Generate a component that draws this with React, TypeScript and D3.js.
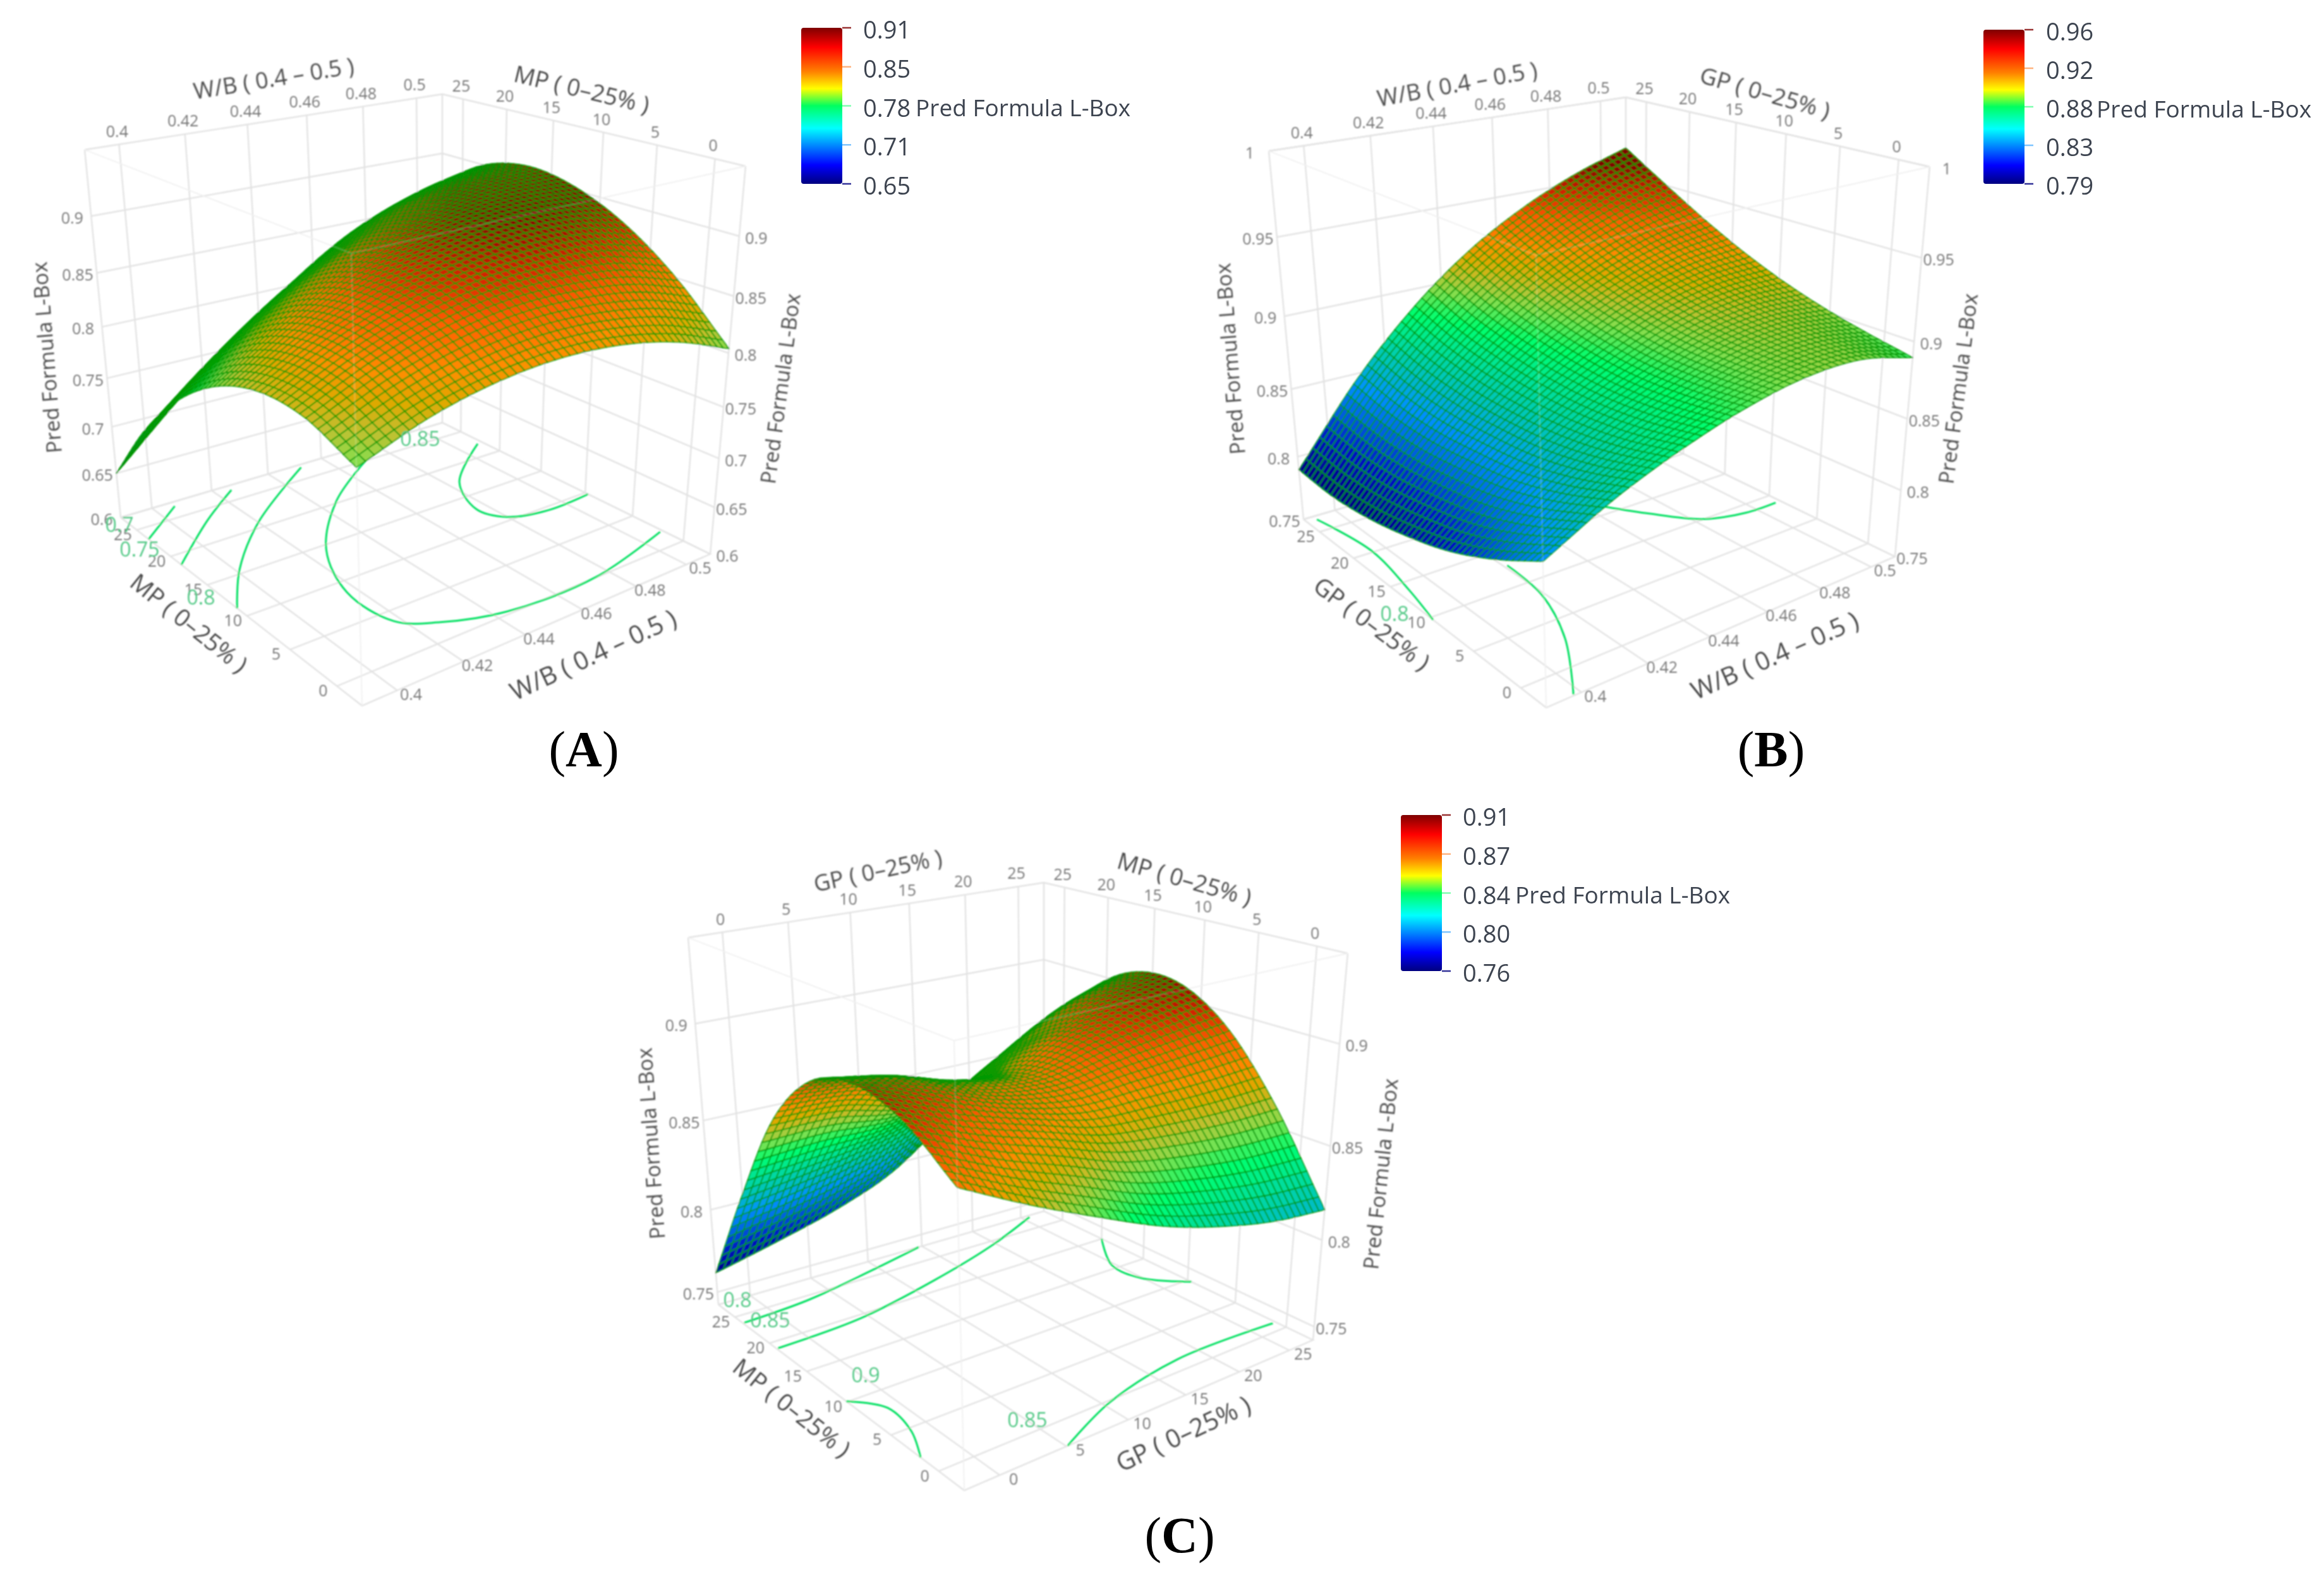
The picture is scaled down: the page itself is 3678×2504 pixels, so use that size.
import React, { useMemo } from "react";
import * as d3 from "d3";

// ---------- data ----------
// Surface heights were read off the picture at 7 x 7 knots. The knots are the spaced stops below.
// The drawn 50 x 50 mesh is a smooth spline curve through these read values (see spline()),
// exactly as a curve generator would draw through a line's points.
const wbStops = [0.39, 0.41, 0.43, 0.45, 0.47, 0.49, 0.51];
const pctStops = [-2.5, 2.5, 7.5, 12.5, 17.5, 22.5, 27.5];

const surfaceA = [
  [0.803, 0.824, 0.836, 0.84, 0.836, 0.824, 0.804],
  [0.82, 0.845, 0.862, 0.871, 0.871, 0.865, 0.85],
  [0.82, 0.85, 0.872, 0.886, 0.893, 0.892, 0.883],
  [0.803, 0.839, 0.867, 0.887, 0.9, 0.905, 0.903],
  [0.769, 0.811, 0.846, 0.873, 0.892, 0.905, 0.91],
  [0.718, 0.767, 0.809, 0.843, 0.871, 0.889, 0.9],
  [0.65, 0.7065, 0.756, 0.7985, 0.834, 0.858, 0.872],
];
const surfaceB = [
  [0.842, 0.864, 0.88, 0.892, 0.899, 0.899, 0.89],
  [0.823, 0.851, 0.872, 0.888, 0.899, 0.902, 0.897],
  [0.808, 0.842, 0.868, 0.887, 0.901, 0.907, 0.906],
  [0.798, 0.838, 0.868, 0.8905, 0.9065, 0.9155, 0.918],
  [0.791, 0.836, 0.871, 0.897, 0.915, 0.927, 0.933],
  [0.788, 0.8385, 0.877, 0.906, 0.927, 0.941, 0.95],
  [0.79, 0.845, 0.887, 0.918, 0.94, 0.956, 0.9675],
];
const surfaceC = [
  [0.883, 0.866, 0.851, 0.837, 0.827, 0.82, 0.8166],
  [0.9, 0.887, 0.877, 0.867, 0.863, 0.861, 0.861],
  [0.906, 0.8975, 0.887, 0.883, 0.887, 0.89, 0.893],
  [0.898, 0.893, 0.884, 0.881, 0.893, 0.902, 0.908],
  [0.87, 0.869, 0.862, 0.865, 0.88, 0.897, 0.906],
  [0.82, 0.8245, 0.83, 0.839, 0.857, 0.875, 0.888],
  [0.762, 0.771, 0.781, 0.795, 0.818, 0.842, 0.858],
];

// floor contours, [x-variable, y-variable] in axis units
const contoursA: [number, number][][] = [
  [[0.406, 26.8], [0.39, 23.2]],
  [[0.425, 26.7], [0.409, 23.3], [0.39, 18.5]],
  [[0.451, 27], [0.42, 20.8], [0.401, 15.5], [0.39, 11.2]],
  [[0.471, 25.1], [0.446, 20.3], [0.426, 14.3], [0.417, 8.6], [0.418, 3.8], [0.427, 1.9], [0.444, 0.3], [0.475, 0.05], [0.509, 2]],
  [[0.508, 22.2], [0.484, 17.3], [0.476, 12.9], [0.48, 10.5], [0.493, 9.5], [0.51, 9.7]],
];
const contoursB: [number, number][][] = [
  [[0.393, 26.9], [0.396, 20.2], [0.393, 13.9], [0.39, 9.65]],
  [[0.421, 12.8], [0.419, 8], [0.411, 2.8], [0.398, -2.4]],
  [[0.464, 16.4], [0.472, 13.3], [0.483, 10], [0.496, 8.9], [0.508, 8.8]],
];
const contoursC: [number, number][][] = [
  [[-2.4, 23.8], [2.9, 24.3], [9.2, 25.9], [14.7, 27.5]],
  [[-2.4, 19], [4.4, 19.5], [12.1, 21.6], [19.6, 24.3], [25.7, 27.2]],
  [[27.5, 20], [24.7, 15.6], [24.9, 12.4], [27.5, 9.6]],
  [[-2.5, 10.1], [-0.9, 7.8], [-1.3, 4.6], [-2.5, 1.85]],
  [[5.1, -2.5], [10.5, -0.2], [18, 1.3], [27.2, 1]],
];

const wbTicks = [0.4, 0.42, 0.44, 0.46, 0.48, 0.5];
const pctTicks = [0, 5, 10, 15, 20, 25];
const zTicksA = [0.6, 0.65, 0.7, 0.75, 0.8, 0.85, 0.9];
const zTicksB = [0.75, 0.8, 0.85, 0.9, 0.95, 1];
const zTicksC = [0.75, 0.8, 0.85, 0.9];

const barLabelsA = ["0.91", "0.85", "0.78", "0.71", "0.65"];
const barLabelsB = ["0.96", "0.92", "0.88", "0.83", "0.79"];
const barLabelsC = ["0.91", "0.87", "0.84", "0.80", "0.76"];

const colorStops = [0, 0.12, 0.356, 0.5, 0.61, 0.72, 0.875, 1];
const colorValues = ["#00007f", "#0000ff", "#00ffff", "#00ff60", "#ffff00", "#ff8000", "#ff0000", "#7f0000"];
// tones the mesh cells show in the picture
const shadeStops = [0, 0.12, 0.22, 0.31, 0.4, 0.5, 0.56, 0.63, 0.68, 0.73, 0.78, 0.86, 0.93, 1];
const shadeValues = ["#00007f", "#0010c0", "#0060e0", "#0090ff", "#00c0c0", "#00e890", "#00ff70", "#80e050", "#c0c030", "#e0a800", "#ff8c00", "#ff5a00", "#d02000", "#7f0000"];

const zTitle = "Pred Formula L-Box";
const wbTitle = "W/B ( 0.4 – 0.5 )";
const mpTitle = "MP ( 0–25% )";
const gpTitle = "GP ( 0–25% )";

// ---------- layout ----------
type P = [number, number];
type Lab = { t: string; x: number; y: number; r: number; s?: number };
type Panel = {
  key: string; letter: string; lx: number; ly: number;
  floor: P[]; top: P[]; // order: front, right, back, left
  xStops: number[]; yStops: number[]; xTicks: number[]; yTicks: number[];
  zDomain: [number, number]; zBend: number; zTicks: number[]; surface: number[][];
  colorDomain: [number, number]; bar: { x: number; y0: number; y1: number; labels: string[]; tx: number; px: number };
  contours: [number, number][][]; contourLabels: Lab[]; titles: Lab[];
};

const panels: Panel[] = [
  {
    key: "A", letter: "A", lx: 924, ly: 1213,
    floor: [[573, 1117], [1124, 877], [700, 669], [191, 819]],
    top: [[556, 401], [1180, 263], [700, 149], [134, 237]],
    xStops: wbStops, yStops: pctStops, xTicks: wbTicks, yTicks: pctTicks,
    zDomain: [0.6, 0.955], zBend: 1.2, zTicks: zTicksA, surface: surfaceA, colorDomain: [0.64, 0.9],
    bar: { x: 1268, y0: 44, y1: 291, labels: barLabelsA, tx: 1366, px: 1449 },
    contours: contoursA,
    contourLabels: [
      { t: "0.7", x: 189, y: 829, r: 0 }, { t: "0.75", x: 221, y: 868, r: 0 },
      { t: "0.8", x: 318, y: 944, r: 0 }, { t: "0.85", x: 665, y: 693, r: 0 },
    ],
    titles: [
      { t: wbTitle, x: 433, y: 123, r: -9.2, s: 36 }, { t: mpTitle, x: 921, y: 140, r: 13.4, s: 37 },
      { t: zTitle, x: 73, y: 566, r: -94.5 }, { t: zTitle, x: 1234, y: 615, r: -82.4 },
      { t: mpTitle, x: 300, y: 985, r: 38.7, s: 38 }, { t: wbTitle, x: 938, y: 1035, r: -25, s: 40 },
    ],
  },
  {
    key: "B", letter: "B", lx: 2803, ly: 1213,
    floor: [[2447, 1120], [2999, 881], [2573, 674], [2063, 822]],
    top: [[2431, 404], [3054, 264], [2573, 154], [2008, 239]],
    xStops: wbStops, yStops: pctStops, xTicks: wbTicks, yTicks: pctTicks,
    zDomain: [0.75, 1], zBend: 1.22, zTicks: zTicksB, surface: surfaceB, colorDomain: [0.79, 0.96],
    bar: { x: 3139, y0: 47, y1: 291, labels: barLabelsB, tx: 3238, px: 3318 },
    contours: contoursB,
    contourLabels: [{ t: "0.8", x: 2207, y: 970, r: 0 }],
    titles: [
      { t: wbTitle, x: 2306, y: 132, r: -10.4, s: 36 }, { t: gpTitle, x: 2794, y: 145, r: 16, s: 37 },
      { t: zTitle, x: 1946, y: 568, r: -94.5 }, { t: zTitle, x: 3098, y: 615, r: -82.6 },
      { t: gpTitle, x: 2172, y: 986, r: 36.8, s: 38 }, { t: wbTitle, x: 2808, y: 1036, r: -24, s: 40 },
    ],
  },
  {
    key: "C", letter: "C", lx: 1867, ly: 2457,
    floor: [[1526, 2359], [2078, 2121], [1652, 1917], [1137, 2065]],
    top: [[1510, 1647], [2133, 1509], [1652, 1397], [1089, 1484]],
    xStops: pctStops, yStops: pctStops, xTicks: pctTicks, yTicks: pctTicks,
    zDomain: [0.742, 0.941], zBend: 1.18, zTicks: zTicksC, surface: surfaceC, colorDomain: [0.76, 0.91],
    bar: { x: 2217, y0: 1290, y1: 1537, labels: barLabelsC, tx: 2315, px: 2398 },
    contours: contoursC,
    contourLabels: [
      { t: "0.8", x: 1167, y: 2056, r: 0 }, { t: "0.85", x: 1219, y: 2088, r: 0 },
      { t: "0.9", x: 1370, y: 2175, r: 0 }, { t: "0.85", x: 1626, y: 2246, r: 0 },
    ],
    titles: [
      { t: gpTitle, x: 1389, y: 1377, r: -12, s: 36 }, { t: mpTitle, x: 1875, y: 1390, r: 16, s: 37 },
      { t: zTitle, x: 1029, y: 1810, r: -94 }, { t: zTitle, x: 2184, y: 1858, r: -84 },
      { t: mpTitle, x: 1254, y: 2227, r: 38.6, s: 38 }, { t: gpTitle, x: 1872, y: 2268, r: -25, s: 40 },
    ],
  },
];

const MESH = 50;
const FONT = "'Open Sans', 'Noto Sans', sans-serif";
const GRID = "#e3e3e3";

// ---------- helpers ----------
function homography(q: P[]) {
  const [p0, p1, p2, p3] = q;
  const cross = (a: P, b: P) => a[0] * b[1] - a[1] * b[0];
  const d1: P = [p1[0] - p2[0], p1[1] - p2[1]];
  const d2: P = [p3[0] - p2[0], p3[1] - p2[1]];
  const s: P = [p0[0] - p1[0] + p2[0] - p3[0], p0[1] - p1[1] + p2[1] - p3[1]];
  const den = cross(d1, d2);
  const g = cross(s, d2) / den;
  const h = cross(d1, s) / den;
  return (u: number, v: number): P => {
    const w = 1 + g * u + h * v;
    return [
      (p0[0] + u * (p1[0] * (1 + g) - p0[0]) + v * (p3[0] * (1 + h) - p0[0])) / w,
      (p0[1] + u * (p1[1] * (1 + g) - p0[1]) + v * (p3[1] * (1 + h) - p0[1])) / w,
    ];
  };
}

// smooth curve through uniformly spaced values (position t in 0..1)
function spline(vals: number[], t: number) {
  const n = vals.length - 1;
  const f = Math.min(Math.max(t, 0), 1) * n;
  const i = Math.min(Math.floor(f), n - 1);
  const r = f - i;
  const p1 = vals[i], p2 = vals[i + 1];
  const p0 = i > 0 ? vals[i - 1] : 2 * p1 - p2;
  const p3 = i < n - 1 ? vals[i + 2] : 2 * p2 - p1;
  return 0.5 * (2 * p1 + (p2 - p0) * r + (2 * p0 - 5 * p1 + 4 * p2 - p3) * r * r + (3 * p1 - p0 - 3 * p2 + p3) * r * r * r);
}

const surfaceAt = (m: number[][], u: number, v: number) => spline(m.map((row) => spline(row, u)), v);

const colorAt = d3.scaleLinear<string>().domain(colorStops).range(colorValues).interpolate(d3.interpolateRgb).clamp(true);
const shadeAt = d3.scaleLinear<string>().domain(shadeStops).range(shadeValues).interpolate(d3.interpolateRgb).clamp(true);

const lineGen = d3.line<P>();
const smoothGen = d3.line<P>().curve(d3.curveCatmullRom.alpha(0.5));

function Surface3D({ p }: { p: Panel }) {
  const view = useMemo(() => {
    const H0 = homography(p.floor);
    const H1 = homography(p.top);
    const sx = d3.scaleLinear().domain([p.xStops[0], p.xStops[6]]).range([0, 1]);
    const sy = d3.scaleLinear().domain([p.yStops[0], p.yStops[6]]).range([0, 1]);
    const sz = d3.scaleLinear().domain(p.zDomain).range([0, 1]);
    const sc = d3.scaleLinear().domain(p.colorDomain).range([0, 1]);
    const bend = (t: number) => t / (t + (1 - t) * p.zBend);
    const pr = (u: number, v: number, z: number): P => {
      const a = H0(u, v), b = H1(u, v), t = bend(sz(z));
      return [a[0] + (b[0] - a[0]) * t, a[1] + (b[1] - a[1]) * t];
    };
    const [z0, z1] = p.zDomain;

    const grid: string[] = [];
    const add = (pts: P[]) => grid.push(lineGen(pts) as string);
    // box
    add([pr(0, 1, z1), pr(1, 1, z1), pr(1, 0, z1)]);
    add([pr(0, 1, z0), pr(1, 1, z0), pr(1, 0, z0), pr(0, 0, z0), pr(0, 1, z0)]);
    add([pr(0, 1, z0), pr(0, 1, z1)]);
    add([pr(1, 1, z0), pr(1, 1, z1)]);
    add([pr(1, 0, z0), pr(1, 0, z1)]);
    p.xTicks.forEach((x) => {
      const u = sx(x);
      add([pr(u, 1, z0), pr(u, 1, z1)]);
      add([pr(u, 0, z0), pr(u, 1, z0)]);
    });
    p.yTicks.forEach((y) => {
      const v = sy(y);
      add([pr(1, v, z0), pr(1, v, z1)]);
      add([pr(0, v, z0), pr(1, v, z0)]);
    });
    p.zTicks.forEach((z) => add([pr(0, 1, z), pr(1, 1, z), pr(1, 0, z)]));
    const faint = [
      lineGen([pr(0, 1, z1), pr(0, 0, z1), pr(1, 0, z1)]) as string,
      lineGen([pr(0, 0, z0), pr(0, 0, z1)]) as string,
    ];

    const field: number[][] = d3.range(MESH + 1).map((j) =>
      d3.range(MESH + 1).map((i) => surfaceAt(p.surface, i / MESH, j / MESH)));
    const cells: { d: string; fill: string }[] = [];
    // painter's order: from the far corner (u=1, v=1) to the near one (u=0, v=0)
    for (let j = MESH - 1; j >= 0; j--) {
      for (let i = MESH - 1; i >= 0; i--) {
        const pts: P[] = [
          pr(i / MESH, j / MESH, field[j][i]),
          pr((i + 1) / MESH, j / MESH, field[j][i + 1]),
          pr((i + 1) / MESH, (j + 1) / MESH, field[j + 1][i + 1]),
          pr(i / MESH, (j + 1) / MESH, field[j + 1][i]),
        ];
        const z = (field[j][i] + field[j][i + 1] + field[j + 1][i] + field[j + 1][i + 1]) / 4;
        cells.push({ d: (lineGen(pts) as string) + "Z", fill: shadeAt(sc(z)) });
      }
    }
    const contours = p.contours.map((c) => smoothGen(c.map(([x, y]) => pr(sx(x), sy(y), z0))) as string);

    const labels: Lab[] = [];
    p.xTicks.forEach((x) => {
      const u = sx(x);
      const a = pr(u, 1, z1), b = pr(u, 0, z0);
      labels.push({ t: String(x), x: a[0] - 3, y: a[1] - 22, r: 0 });
      labels.push({ t: String(x), x: b[0] + 22, y: b[1] + 5, r: 0 });
    });
    p.yTicks.forEach((y) => {
      const v = sy(y);
      const a = pr(1, v, z1), b = pr(0, v, z0);
      labels.push({ t: String(y), x: a[0] - 3, y: a[1] - 22, r: 0 });
      labels.push({ t: String(y), x: b[0] - 22, y: b[1] + 6, r: 0 });
    });
    p.zTicks.forEach((z) => {
      const a = pr(0, 1, z), b = pr(1, 0, z);
      labels.push({ t: String(z), x: a[0] - 30, y: a[1] + 2, r: 0 });
      labels.push({ t: String(z), x: b[0] + 27, y: b[1] + 2, r: 0 });
    });
    return { grid, faint, cells, contours, labels };
  }, [p]);

  const b = p.bar;
  const barTick = d3.scaleLinear().domain([0, b.labels.length - 1]).range([b.y0, b.y1]);
  return (
    <g>
      <g filter="url(#soft)">
        <g fill="none" stroke={GRID} strokeWidth={2.4}>
          {view.grid.map((d, i) => <path key={i} d={d} />)}
          <path d={view.faint[0]} strokeWidth={1.8} stroke="#ededed" />
          <path d={view.faint[1]} strokeWidth={1.8} stroke="#ededed" />
        </g>
        <g fill="none" stroke="#00e060" strokeWidth={3}>
          {view.contours.map((d, i) => <path key={i} d={d} />)}
        </g>
        <g strokeLinejoin="round">
          {view.cells.map((c, i) => <path key={i} d={c.d} fill={c.fill} stroke="#009a00" strokeOpacity={0.85} strokeWidth={1.9} />)}
        </g>
        <g fill="none" stroke="#ffffff" strokeOpacity={0.2} strokeWidth={2}>
          <path d={view.faint[0]} />
          <path d={view.faint[1]} />
        </g>
        <g fontFamily={FONT} fontSize={25} fill="#777" textAnchor="middle" dominantBaseline="central">
          {view.labels.map((l, i) => <text key={i} x={l.x} y={l.y}>{l.t}</text>)}
        </g>
        <g fontFamily={FONT} fontSize={32} fill="#52c986" textAnchor="middle" dominantBaseline="central">
          {p.contourLabels.map((l, i) => <text key={i} x={l.x} y={l.y}>{l.t}</text>)}
        </g>
        <g fontFamily={FONT} fill="#4a4a4a" textAnchor="middle" dominantBaseline="central">
          {p.titles.map((l, i) => (
            <text key={i} fontSize={l.s ?? 33} transform={`translate(${l.x},${l.y}) rotate(${l.r})`}>{l.t}</text>
          ))}
        </g>
      </g>
      <rect x={b.x} y={b.y0} width={65} height={b.y1 - b.y0} rx={4} fill="url(#bar)" />
      {b.labels.map((t, i) => {
        const y = barTick(i);
        const f = 1 - (y - b.y0) / (b.y1 - b.y0);
        return (
          <g key={t}>
            <line x1={b.x + 65} x2={b.x + 79} y1={y} y2={y} stroke={colorAt(f)} strokeOpacity={i === 0 || i === 4 ? 0.8 : 0.5} strokeWidth={2.5} />
            <text x={b.tx} y={y + 2} fontFamily={FONT} fontSize={38} fill="#3d4450" dominantBaseline="central">{t}</text>
          </g>
        );
      })}
      <text x={b.px} y={barTick(2) + 2} fontFamily={FONT} fontSize={37} fill="#3d4450" dominantBaseline="central">{zTitle}</text>
      <text x={p.lx} y={p.ly} textAnchor="middle" fontFamily="'Liberation Serif', serif" fontSize={80} fill="#000">
        (<tspan fontWeight="bold">{p.letter}</tspan>)
      </text>
    </g>
  );
}

export default function App() {
  return (
    <svg width={3678} height={2504} viewBox="0 0 3678 2504" style={{ position: "absolute", left: 0, top: 0, display: "block", background: "#fff" }}>
      <defs>
        <linearGradient id="bar" x1="0" y1="1" x2="0" y2="0">
          {colorStops.map((s, i) => <stop key={s} offset={s} stopColor={colorValues[i]} />)}
        </linearGradient>
        <filter id="soft" filterUnits="userSpaceOnUse" x="0" y="0" width="3678" height="2504">
          <feGaussianBlur stdDeviation="0.9" />
        </filter>
      </defs>
      {panels.map((p) => <Surface3D key={p.key} p={p} />)}
    </svg>
  );
}
